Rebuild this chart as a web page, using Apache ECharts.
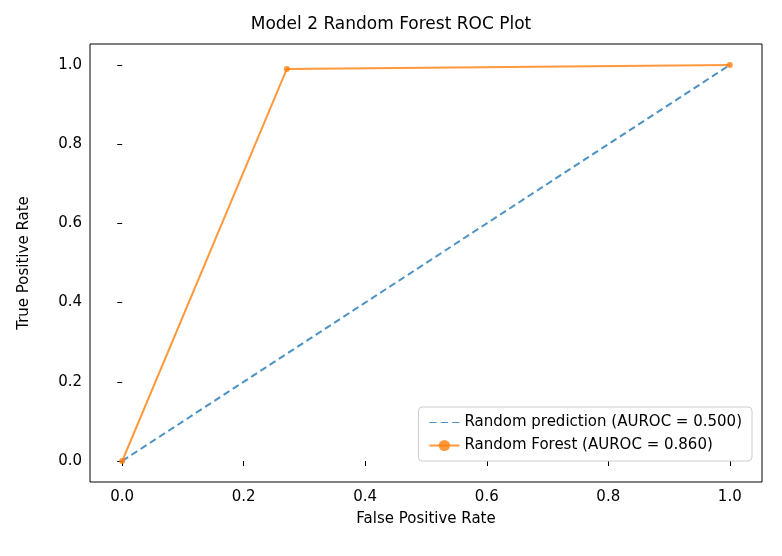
<!DOCTYPE html>
<html><head><meta charset="utf-8">
<script src="https://cdn.jsdelivr.net/npm/echarts@6/dist/echarts.min.js"></script>
<style>html,body{margin:0;padding:0;background:#fff}#c{width:782px;height:556px}</style>
</head><body><div id="c"></div>
<script>
const randomFpr = [0, 1];
const randomTpr = [0, 1];
const rfFpr = [0, 0.271, 1];
const rfTpr = [0, 0.99, 1];
const ticks = [0, 0.2, 0.4, 0.6, 0.8, 1.0];
const font = 'DejaVu Sans';
const chart = echarts.init(document.getElementById('c'));
function axis(extra){
  return Object.assign({
    type:'value',min:-0.053,max:1.053,
    axisLine:{show:false}, splitLine:{show:false},
    axisTick:{show:true,inside:false,length:5,lineStyle:{color:'#000'},customValues:ticks},
    axisLabel:{color:'#000',fontSize:15,fontFamily:font,customValues:ticks,formatter:v=>v.toFixed(1)},
    nameLocation:'middle', nameTextStyle:{color:'#000',fontSize:15,fontFamily:font}
  },extra);
}
chart.setOption({
  animation:false,
  title:{text:'Model 2 Random Forest ROC Plot',left:'center',top:11,textStyle:{fontFamily:font,fontSize:17,fontWeight:'normal',color:'#000'}},
  grid:{left:90,right:20,top:44,bottom:74,show:true,borderColor:'#000',borderWidth:1},
  xAxis:axis({name:'False Positive Rate',nameGap:30}),
  yAxis:axis({name:'True Positive Rate',nameGap:58}),
  legend:{right:30,bottom:95,orient:'vertical',backgroundColor:'#fff',borderColor:'#ccc',borderWidth:1,borderRadius:4,padding:[8,10],itemGap:8,itemWidth:30,
    textStyle:{fontFamily:font,fontSize:15,color:'#000'},
    data:[{name:'Random prediction (AUROC = 0.500)',icon:'path://M0,0 L7,0 L7,1 L0,1 Z M11,0 L18,0 L18,1 L11,1 Z M22,0 L29,0 L29,1 L22,1 Z'},
          {name:'Random Forest (AUROC = 0.860)'}]},
  series:[
    {name:'Random prediction (AUROC = 0.500)',type:'line',data:randomFpr.map((x,i)=>[x,randomTpr[i]]),symbol:'none',
      lineStyle:{color:'#1f77b4',type:[7,4],width:2,opacity:0.8},itemStyle:{color:'#1f77b4',opacity:0.8}},
    {name:'Random Forest (AUROC = 0.860)',type:'line',data:rfFpr.map((x,i)=>[x,rfTpr[i]]),symbol:'circle',symbolSize:6,legendIcon:'circle',
      lineStyle:{color:'#ff7f0e',width:2,opacity:0.8},itemStyle:{color:'#ff7f0e',opacity:0.8}}
  ]
});
</script></body></html>
